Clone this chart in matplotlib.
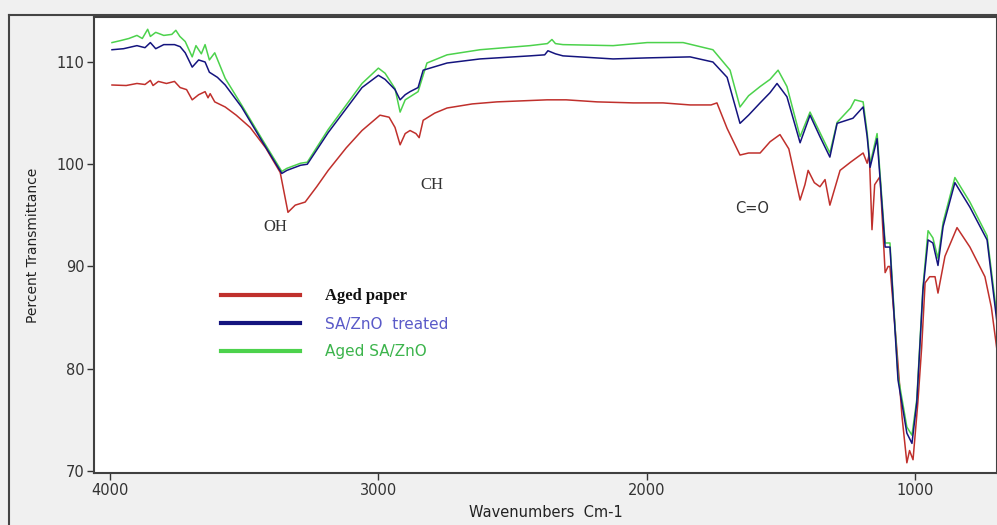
import matplotlib
matplotlib.use("Agg")
import matplotlib.pyplot as plt
from matplotlib.lines import Line2D
import numpy as np

# FTIR spectra (wavenumber cm-1, % transmittance)
red_wn = [3993, 3940, 3900, 3870, 3850, 3840, 3820, 3790, 3760, 3739, 3715, 3694,
          3670, 3646, 3635, 3627, 3610, 3571, 3530, 3478, 3420, 3366, 3337, 3310,
          3273, 3230, 3187, 3120, 3061, 2994, 2960, 2938, 2919, 2900, 2882, 2860,
          2848, 2833, 2790, 2744, 2650, 2558, 2371, 2300, 2185, 2050, 1939, 1838,
          1760, 1738, 1700, 1652, 1620, 1577, 1540, 1503, 1470, 1428, 1410, 1398,
          1375, 1354, 1335, 1317, 1279, 1240, 1193, 1178, 1170, 1160, 1150, 1130,
          1111, 1100, 1093, 1067, 1048, 1030, 1020, 1007, 989, 975, 962, 945,
          925, 914, 888, 843, 795, 739, 715, 694]
red_val = [107.75, 107.7, 107.9, 107.8, 108.2, 107.7, 108.1, 107.9, 108.1, 107.5, 107.3, 106.3,
           106.8, 107.1, 106.5, 106.9, 106.1, 105.6, 104.8, 103.6, 101.6, 99.2, 95.3, 96.0,
           96.3, 97.8, 99.4, 101.6, 103.3, 104.8, 104.6, 103.6, 101.9, 103.0, 103.3, 103.0,
           102.6, 104.3, 105.0, 105.5, 105.9, 106.1, 106.3, 106.3, 106.1, 106.0, 106.0, 105.8,
           105.8, 106.0, 103.5, 100.9, 101.1, 101.1, 102.2, 102.9, 101.5, 96.5, 98.0, 99.4,
           98.2, 97.8, 98.5, 96.0, 99.4, 100.2, 101.1, 100.1, 101.0, 93.6, 98.0, 98.8,
           89.4, 90.0, 90.0, 81.8, 75.3, 70.8, 72.0, 71.1, 76.7, 82.0, 88.4, 89.0,
           89.0, 87.4, 91.0, 93.8, 91.9, 89.0, 86.0, 81.8]

blue_wn = [3993, 3950, 3900, 3870, 3850, 3830, 3800, 3760, 3739, 3720, 3694, 3670,
           3646, 3630, 3600, 3571, 3510, 3430, 3360, 3341, 3290, 3265, 3187, 3061,
           3000, 2975, 2938, 2919, 2900, 2882, 2852, 2833, 2744, 2621, 2435, 2380,
           2368, 2340, 2312, 2125, 2000, 1838, 1753, 1700, 1652, 1620, 1577, 1540,
           1514, 1477, 1428, 1391, 1354, 1317, 1290, 1231, 1193, 1178, 1167, 1141,
           1111, 1093, 1063, 1030, 1011, 993, 970, 951, 933, 914, 895, 851,
           795, 731, 694]
blue_val = [111.2, 111.3, 111.6, 111.4, 111.9, 111.3, 111.7, 111.7, 111.5, 110.9, 109.5, 110.2,
            110.0, 109.0, 108.5, 107.75, 105.6, 102.1, 99.1, 99.4, 99.9, 100.0, 103.1, 107.5,
            108.7, 108.3, 107.3, 106.3, 106.8, 107.1, 107.5, 109.2, 109.9, 110.3, 110.6, 110.7,
            111.1, 110.8, 110.6, 110.3, 110.4, 110.5, 110.0, 108.5, 104.0, 104.8, 106.0, 107.0,
            107.9, 106.6, 102.1, 104.8, 102.7, 100.7, 104.0, 104.5, 105.6, 102.7, 99.7, 102.5,
            91.9, 91.9, 78.9, 73.7, 72.7, 76.7, 87.7, 92.6, 92.3, 90.1, 93.9, 98.2,
            95.8, 92.6, 84.5]

green_wn = [3993, 3960, 3930, 3900, 3880, 3860, 3850, 3830, 3800, 3770, 3755, 3740,
            3720, 3694, 3680, 3660, 3646, 3630, 3610, 3571, 3510, 3430, 3360, 3341,
            3290, 3265, 3187, 3061, 3000, 2975, 2938, 2919, 2900, 2882, 2852, 2819,
            2744, 2621, 2435, 2370, 2353, 2340, 2312, 2125, 1998, 1864, 1753, 1689,
            1652, 1620, 1577, 1540, 1510, 1477, 1428, 1391, 1354, 1317, 1290, 1240,
            1224, 1193, 1178, 1167, 1141, 1111, 1093, 1063, 1030, 1011, 993, 970,
            951, 933, 914, 895, 851, 795, 731, 694]
green_val = [111.9, 112.1, 112.3, 112.6, 112.3, 113.2, 112.5, 112.9, 112.6, 112.7, 113.1, 112.5,
             112.0, 110.5, 111.6, 110.8, 111.7, 110.2, 110.9, 108.4, 105.8, 102.3, 99.3, 99.6,
             100.1, 100.2, 103.4, 107.9, 109.4, 108.9, 107.4, 105.1, 106.3, 106.6, 107.1, 109.9,
             110.7, 111.2, 111.6, 111.8, 112.2, 111.8, 111.7, 111.6, 111.9, 111.9, 111.2, 109.2,
             105.6, 106.7, 107.6, 108.3, 109.2, 107.6, 102.7, 105.1, 103.1, 101.1, 104.1, 105.5,
             106.3, 106.1, 103.1, 100.0, 103.0, 92.3, 92.3, 79.3, 74.3, 73.5, 77.0, 88.0,
             93.5, 92.8, 90.8, 94.3, 98.7, 96.3, 93.0, 85.1]

labels = ["Aged paper", "SA/ZnO  treated", "Aged SA/ZnO"]
colors = ["#c0302c", "#14147e", "#4cd24c"]
label_colors = ["#111111", "#5a5ac8", "#3cb44c"]

peaks = ["OH", "CH", "C=O"]
peak_wn = [3385, 2800, 1607]
peak_val = [93.9, 98.0, 95.7]

fig = plt.figure(figsize=(9.97, 5.25), dpi=100, facecolor="#f0f0f0")
ax = fig.add_axes([0.0943, 0.099, 0.9057, 0.8686])
ax.set_facecolor("white")

ax.plot(red_wn, red_val, color=colors[0], lw=1.1)
ax.plot(green_wn, green_val, color=colors[2], lw=1.1)
ax.plot(blue_wn, blue_val, color=colors[1], lw=1.1)

ax.set_xlim(4060, 694)
ax.set_ylim(69.8, 114.4)
ax.set_xticks([4000, 3000, 2000, 1000])
ax.set_yticks([70, 80, 90, 100, 110])
ax.tick_params(direction="out", length=5, width=1, labelsize=10.5,
               colors="#333333", pad=2)
for s in ax.spines.values():
    s.set_color("#404040")
    s.set_linewidth(1.5)

ax.set_ylabel("Percent Transmittance", fontsize=10, color="#222222", labelpad=12)
ax.set_xlabel("Wavenumbers  Cm-1", fontsize=10.5, color="#222222", labelpad=5)

# band labels
fonts = ["Liberation Serif", "Liberation Serif", "DejaVu Sans"]
sizes = [12, 12, 10.5]
for name, w, v, f, fs in zip(peaks, peak_wn, peak_val, fonts, sizes):
    ax.text(w, v, name, fontsize=fs, fontfamily=f, color="#333333",
            ha="center", va="center")

handles = [Line2D([], [], color=c, lw=3) for c in colors]
leg = ax.legend(handles, labels, loc="upper left", bbox_to_anchor=(0.125, 0.435),
                frameon=False, handlelength=5.2, handletextpad=1.6,
                labelspacing=0.8, fontsize=11)
for t, c in zip(leg.get_texts(), label_colors):
    t.set_color(c)
leg.get_texts()[0].set_fontfamily("Liberation Serif")
leg.get_texts()[0].set_fontweight("bold")
leg.get_texts()[0].set_fontsize(12)

# outer frame of the screenshot
fig.add_artist(Line2D([0.009, 0.009], [0.0, 0.971], color="#444444", lw=1.5))
fig.add_artist(Line2D([0.009, 1.0], [0.971, 0.971], color="#444444", lw=1.5))

fig.savefig("out.png", dpi=100, facecolor=fig.get_facecolor())
